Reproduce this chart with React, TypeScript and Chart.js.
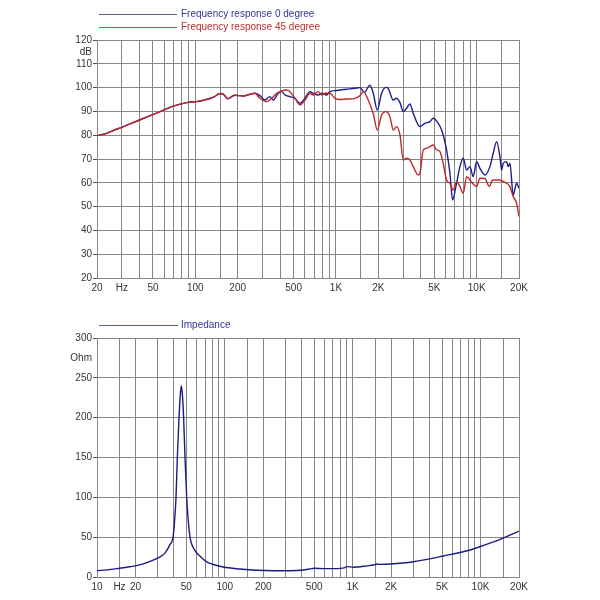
import { useEffect, useRef } from "react";
import { Chart, registerables } from "chart.js";

Chart.register(...registerables);

// ---- Frequency response, 0 degree (Hz / dB) ----
const fr0Hz = [
  20, 23.4, 26, 30.8, 40.5, 53, 69.7, 86.8, 102, 120, 135, 150, 158, 170, 190, 219, 245, 265,
  288, 313, 339, 358, 389, 411, 434, 471, 511, 554, 601, 653, 689, 748, 791, 858, 906, 1011,
  1191, 1364, 1479, 1590, 1742, 1841, 1965, 2110, 2265, 2350, 2553, 2697, 2849, 3007, 3175,
  3354, 3540, 3951, 4286, 4654, 4910, 5332, 5637, 6048, 6456, 6746, 7121, 7604, 8027, 8484,
  8955, 9454, 9990, 10545, 11448, 12423, 13114, 13866, 14632, 15040, 15448, 16329, 16750,
  17232, 18190, 19233, 20000,
];
const fr0Db = [
  79.8, 80.8, 81.9, 83.6, 86.5, 89.3, 92.2, 93.7, 94.1, 95.0, 96.0, 97.5, 97.3, 95.3, 96.8,
  96.5, 97.2, 97.6, 96.6, 94.8, 96.2, 94.8, 97.6, 98.3, 96.9, 96.2, 95.5, 93.4, 95.5, 98.3,
  97.6, 96.9, 97.6, 96.9, 98.3, 98.8, 99.3, 99.7, 100.0, 98.0, 101.0, 97.6, 90.6, 97.6, 100.1,
  99.7, 94.8, 95.5, 93.7, 89.9, 91.3, 93.1, 89.2, 83.6, 85.0, 85.7, 87.1, 85.0, 82.2, 75.2,
  64.0, 52.8, 58.4, 66.8, 70.3, 65.4, 66.8, 62.6, 68.9, 66.1, 63.3, 66.8, 72.4, 77.3, 71.0,
  65.4, 68.2, 68.9, 66.8, 68.2, 54.9, 59.8, 57.7,
];

// ---- Frequency response, 45 degree (Hz / dB) ----
const fr45Hz = [
  20, 23.4, 26, 30.8, 40.5, 53, 69.7, 86.8, 102, 120, 135, 150, 158, 170, 190, 219, 245, 265,
  288, 321, 349, 379, 411, 446, 471, 511, 554, 601, 653, 689, 748, 791, 835, 906, 983, 1060,
  1191, 1364, 1479, 1563, 1695, 1841, 1965, 2110, 2265, 2418, 2553, 2697, 2849, 3007, 3175,
  3354, 3540, 3845, 3951, 4172, 4414, 4654, 4910, 5190, 5480, 5783, 6109, 6456, 6811, 7195,
  7604, 8027, 8484, 8955, 9454, 9990, 10545, 11448, 12303, 12995, 14497, 15448, 16329, 17232,
  18190, 19233, 20000,
];
const fr45Db = [
  79.8, 80.8, 81.9, 83.6, 86.5, 89.3, 92.2, 93.7, 94.1, 95.0, 96.0, 97.5, 97.3, 95.3, 96.8,
  96.5, 97.2, 97.6, 95.5, 94.1, 95.5, 97.6, 98.6, 99.0, 98.3, 95.5, 92.7, 94.8, 97.6, 96.9,
  98.3, 96.9, 97.6, 97.6, 95.5, 95.0, 95.2, 95.5, 96.6, 98.3, 94.8, 89.0, 82.2, 88.5, 89.9,
  87.8, 82.2, 83.6, 80.1, 69.6, 70.3, 69.6, 66.8, 63.3, 64.0, 73.8, 74.5, 75.2, 75.9, 73.8,
  73.1, 68.2, 61.2, 59.8, 57.0, 60.5, 58.4, 55.6, 62.6, 61.2, 59.5, 58.4, 61.9, 61.8, 58.5,
  61.2, 61.2, 60.5, 59.8, 58.4, 54.2, 51.4, 45.8,
];

// ---- Impedance (Hz / Ohm) ----
const impHz = [
  10, 12, 15, 18, 20, 23, 26, 30, 34, 37, 39.5, 40.5, 41.5, 42.5, 43.8, 44.8, 45.7, 46.6, 47.6,
  48.8, 50.3, 51.5, 53.4, 58, 64, 72, 80, 97, 131, 178, 240, 324, 411, 480, 508, 590, 751,
  860, 900, 1014, 1300, 1453, 1540, 1620, 1963, 2985, 5130, 8290, 10240, 14230, 20000,
];
const impOhm = [
  8, 9, 11, 12.8, 14, 16.5, 19.5, 24, 30, 40, 52, 72, 100, 150, 200, 228, 240, 228, 200, 150,
  100, 75, 50, 34, 26, 19, 16, 12.5, 10, 8.4, 7.9, 7.9, 8.8, 10.5, 10.9, 10.5, 10.5, 11.5, 13,
  12.3, 14, 15, 16.3, 15.8, 16.3, 19.2, 26.4, 33.9, 38.9, 47.3, 57.7,
];

// ---- Axis ticks ----
const frGridHz = [
  20, 30, 40, 50, 60, 70, 80, 90, 100, 150, 200, 300, 400, 500, 600, 700, 800, 900, 1000, 1500,
  2000, 3000, 4000, 5000, 6000, 7000, 8000, 9000, 10000, 15000, 20000,
];
const frTickLabels: Record<number, string> = {
  20: "20", 30: "Hz", 50: "50", 100: "100", 200: "200", 500: "500",
  1000: "1K", 2000: "2K", 5000: "5K", 10000: "10K", 20000: "20K",
};
const impGridHz = [
  10, 15, 20, 30, 40, 50, 60, 70, 80, 90, 100, 150, 200, 300, 400, 500, 600, 700, 800, 900,
  1000, 1500, 2000, 3000, 4000, 5000, 6000, 7000, 8000, 9000, 10000, 15000, 20000,
];
const impTickLabels: Record<number, string> = {
  10: "10", 15: "Hz", 20: "20", 50: "50", 100: "100", 200: "200", 500: "500",
  1000: "1K", 2000: "2K", 5000: "5K", 10000: "10K", 20000: "20K",
};
const dbTicks = [20, 30, 40, 50, 60, 70, 80, 90, 100, 110, 115, 120];
const ohmTicks = [0, 50, 100, 150, 200, 250, 275, 300];

const FONT = "'Liberation Sans', Arial, Helvetica, sans-serif";
const GRID = "#868686";
const TEXT = "#333333";

const toPoints = (xs: number[], ys: number[]) => xs.map((x, i) => ({ x, y: ys[i] }));

// Draws the stacked line legend above the plot area.
const lineLegend = {
  id: "lineLegend",
  afterDraw(chart: any, _args: any, opts: any) {
    const ctx = chart.ctx;
    ctx.save();
    ctx.font = `10px ${FONT}`;
    ctx.textBaseline = "middle";
    (opts.items || []).forEach((it: any, i: number) => {
      const label = chart.data.datasets[i].label;
      const y = it.y;
      ctx.strokeStyle = it.lineColor;
      ctx.lineWidth = 1.2;
      ctx.beginPath();
      ctx.moveTo(opts.x0, y + 0.5);
      ctx.lineTo(opts.x1, y + 0.5);
      ctx.stroke();
      ctx.fillStyle = it.textColor;
      ctx.textAlign = "left";
      ctx.fillText(label, opts.textX, y);
    });
    ctx.restore();
  },
};

function buildConfig(p: any): any {
  return {
    type: "line",
    data: { datasets: p.datasets },
    plugins: [lineLegend],
    options: {
      responsive: false,
      animation: false,
      events: [],
      layout: { padding: { top: p.padTop, right: 81, left: 0, bottom: 0 } },
      plugins: {
        legend: { display: false },
        tooltip: { enabled: false },
        lineLegend: p.legend,
      },
      elements: { point: { radius: 0 } },
      scales: {
        x: {
          type: "logarithmic",
          min: p.xMin,
          max: p.xMax,
          afterBuildTicks: (axis: any) => {
            axis.ticks = p.xGrid.map((v: number) => ({ value: v }));
          },
          afterFit: (axis: any) => {
            axis.height = p.xAxisHeight;
          },
          ticks: {
            autoSkip: false,
            maxRotation: 0,
            padding: 4,
            color: TEXT,
            font: { family: FONT, size: 10 },
            callback: (v: any) => p.xLabels[Number(v)] ?? "",
          },
          grid: { color: GRID, lineWidth: 1, drawTicks: false },
          border: { color: GRID },
        },
        y: {
          type: "linear",
          min: p.yMin,
          max: p.yMax,
          afterBuildTicks: (axis: any) => {
            axis.ticks = p.yTicks.map((v: number) => ({ value: v }));
          },
          afterFit: (axis: any) => {
            axis.width = 97;
          },
          ticks: {
            autoSkip: false,
            padding: 1,
            color: TEXT,
            font: { family: FONT, size: 10 },
            callback: (v: any) => (Number(v) === p.yUnitValue ? p.yUnitLabel : String(v)),
          },
          grid: {
            lineWidth: 1,
            tickLength: 4,
            color: (c: any) => (c.tick && c.tick.value === p.yUnitValue ? "rgba(0,0,0,0)" : GRID),
            tickColor: (c: any) =>
              c.tick && c.tick.value === p.yUnitValue ? "rgba(0,0,0,0)" : "#555555",
          },
          border: { color: GRID },
        },
      },
    },
  };
}

function ChartCanvas({ config, top }: { config: any; top: number }) {
  const ref = useRef<HTMLCanvasElement | null>(null);
  useEffect(() => {
    if (!ref.current) return;
    const chart = new Chart(ref.current, config);
    return () => chart.destroy();
  }, [config]);
  return (
    <canvas
      ref={ref}
      width={600}
      height={300}
      style={{ position: "absolute", left: 0, top, width: 600, height: 300 }}
    />
  );
}

const lineStyle = { borderWidth: 1.4, pointRadius: 0, cubicInterpolationMode: "monotone", fill: false };

const responseConfig = buildConfig({
  datasets: [
    {
      label: "Frequency response 0 degree",
      data: toPoints(fr0Hz, fr0Db),
      borderColor: "#1e1e8c",
      order: 1,
      ...lineStyle,
    },
    {
      label: "Frequency response 45 degree",
      data: toPoints(fr45Hz, fr45Db),
      borderColor: "#c02828",
      order: 0,
      ...lineStyle,
    },
  ],
  padTop: 40,
  xAxisHeight: 22,
  xMin: 20,
  xMax: 20000,
  xGrid: frGridHz,
  xLabels: frTickLabels,
  yMin: 20,
  yMax: 120,
  yTicks: dbTicks,
  yUnitValue: 115,
  yUnitLabel: "dB",
  legend: {
    x0: 99,
    x1: 177,
    textX: 181,
    items: [
      { y: 14, lineColor: "#5c5c86", textColor: "#34349a" },
      { y: 27, lineColor: "#c04848", textColor: "#b83030" },
    ],
  },
});

const impedanceConfig = buildConfig({
  datasets: [
    {
      label: "Impedance",
      data: toPoints(impHz, impOhm),
      borderColor: "#1c1c80",
      ...lineStyle,
    },
  ],
  padTop: 38,
  xAxisHeight: 23,
  xMin: 10,
  xMax: 20000,
  xGrid: impGridHz,
  xLabels: impTickLabels,
  yMin: 0,
  yMax: 300,
  yTicks: ohmTicks,
  yUnitValue: 275,
  yUnitLabel: "Ohm",
  legend: {
    x0: 99,
    x1: 178,
    textX: 181,
    items: [{ y: 25, lineColor: "#5c5c86", textColor: "#34349a" }],
  },
});

export default function App() {
  return (
    <div
      style={{
        position: "absolute",
        left: 0,
        top: 0,
        width: 600,
        height: 600,
        background: "#ffffff",
        overflow: "hidden",
      }}
    >
      <ChartCanvas config={responseConfig} top={0} />
      <ChartCanvas config={impedanceConfig} top={300} />
    </div>
  );
}
